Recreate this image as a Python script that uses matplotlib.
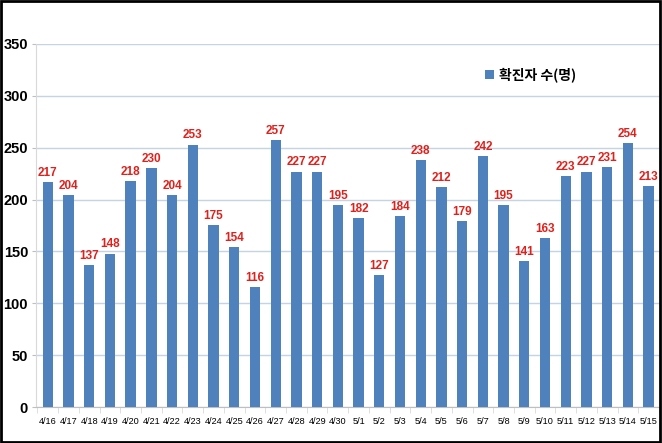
import matplotlib.pyplot as plt
from matplotlib.patches import Rectangle

plt.rcParams['font.family'] = ['Noto Sans CJK KR', 'DejaVu Sans']

dates = ['4/16', '4/17', '4/18', '4/19', '4/20', '4/21', '4/22', '4/23', '4/24', '4/25',
         '4/26', '4/27', '4/28', '4/29', '4/30', '5/1', '5/2', '5/3', '5/4', '5/5',
         '5/6', '5/7', '5/8', '5/9', '5/10', '5/11', '5/12', '5/13', '5/14', '5/15']
cases = [217, 204, 137, 148, 218, 230, 204, 253, 175, 154,
         116, 257, 227, 227, 195, 182, 127, 184, 238, 212,
         179, 242, 195, 141, 163, 223, 227, 231, 254, 213]
series_name = '확진자 수(명)'

fig = plt.figure(figsize=(6.62, 4.43), dpi=100)
ax = fig.add_axes([0.055, 0.081, 0.942, 0.82])

x = range(len(dates))
ax.bar(x, cases, width=0.5, color='#4F81BD', label=series_name, zorder=3)
for xi, v in zip(x, cases):
    ax.text(xi, v + 3, str(v), ha='center', va='bottom', color='#E0201B',
            fontsize=8.5, fontweight='bold', family='Liberation Sans')

ax.set_ylim(0, 350)
ax.set_xlim(-0.55, len(dates) - 0.45)
ax.set_yticks(range(0, 351, 50))
ax.set_yticklabels([str(t) for t in range(0, 351, 50)], fontsize=10.5,
                   fontweight='bold', family='Liberation Sans')
ax.set_xticks(list(x))
ax.set_xticklabels(dates, fontsize=6.6, family=['Liberation Sans Narrow', 'Liberation Sans'])
ax.set_xticks([i + 0.5 for i in range(-1, len(dates))], minor=True)
ax.tick_params(axis='y', length=3, color='#BFBFBF', pad=3)
ax.tick_params(axis='x', which='major', length=0, pad=7)
ax.tick_params(axis='x', which='minor', length=4, color='#D9D9D9')
ax.grid(axis='y', color='#C6D3E0', linewidth=1, zorder=0)
for s in ['top', 'right']:
    ax.spines[s].set_visible(False)
ax.spines['left'].set_color('#D9D9D9')
ax.spines['bottom'].set_color('#BFBFBF')

ax.legend(loc='upper left', bbox_to_anchor=(0.7, 0.97), frameon=False,
          handlelength=0.6, handleheight=0.6, handletextpad=0.4,
          prop={'family': ['Noto Sans CJK KR'], 'weight': 'bold', 'size': 10})

fig.patches.append(Rectangle((0.002, 0.003), 0.995, 0.994, transform=fig.transFigure,
                             fill=False, edgecolor='black', linewidth=2))

fig.savefig('out.png', dpi=100)
